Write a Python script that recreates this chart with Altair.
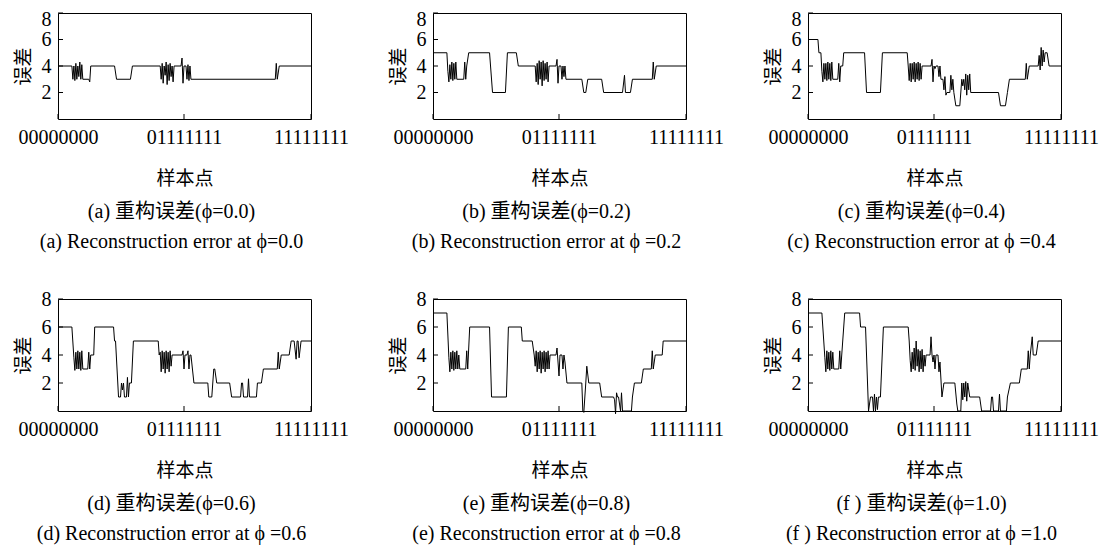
import altair as alt
import pandas as pd

# ---------------- data ----------------
X_TICK_VALUES = [0, 127, 255]
X_TICK_LABELS = ["00000000", "01111111", "11111111"]
Y_TICK_VALUES = [2, 4, 6, 8]
X_TITLE = "样本点"
Y_TITLE = "误差"

CN_CAPTIONS = ["(a)  重构误差(ϕ=0.0)", "(b)  重构误差(ϕ=0.2)", "(c)  重构误差(ϕ=0.4)",
               "(d)  重构误差(ϕ=0.6)", "(e) 重构误差(ϕ=0.8)", "(f ) 重构误差(ϕ=1.0)"]
EN_CAPTIONS = ["(a) Reconstruction error at ϕ=0.0", "(b) Reconstruction error at ϕ =0.2",
               "(c) Reconstruction error at ϕ =0.4", "(d) Reconstruction error at ϕ =0.6",
               "(e) Reconstruction error at ϕ =0.8", "(f ) Reconstruction error at ϕ =1.0"]

# [sample index, error]
PANEL_A = [[0, 4], [14, 4], [15, 3], [16, 4], [17, 2.9], [18, 4.2], [19, 3], [20, 4], [21, 3.2], [22, 4.3],
           [23, 3], [24, 4.1], [25, 3], [31, 3], [32, 2.8], [33, 4], [57, 4], [59, 3], [73, 3], [75, 4],
           [103, 4], [104, 3], [105, 4.2], [106, 2.7], [107, 4], [108, 3.3], [109, 4.3], [110, 2.6], [111, 4.1],
           [112, 2.9], [113, 4.2], [114, 3.2], [115, 4], [116, 2.8], [117, 4], [124, 4], [125, 4.6], [126, 2.7],
           [127, 4], [129, 4], [130, 3], [131, 4.1], [132, 2.9], [133, 4], [134, 3], [219, 3], [220, 4.2],
           [221, 3], [223, 4], [255, 4]]

PANEL_B = [[0, 5], [14, 5], [15, 3.6], [16, 2.8], [17, 4.1], [18, 3], [19, 4.3], [20, 2.9], [21, 4.2], [22, 3],
           [23, 4.3], [24, 3], [31, 3], [32, 4.3], [33, 3], [34, 4], [36, 5], [57, 5], [60, 2], [73, 2], [75, 5],
           [84, 5], [86, 4], [103, 4], [104, 2.8], [105, 4.2], [106, 2.6], [107, 4.4], [108, 3], [109, 4.3],
           [110, 2.5], [111, 4.4], [112, 2.9], [113, 4.2], [114, 3], [115, 4.3], [116, 2.8], [117, 4], [124, 4],
           [125, 4.5], [126, 2.7], [127, 4], [129, 4], [130, 3], [131, 4], [132, 3.2], [133, 4], [134, 3],
           [150, 3], [152, 2], [154, 2], [156, 3], [170, 3], [172, 2], [191, 2], [193, 3.3], [194, 2], [199, 2],
           [201, 3], [221, 3], [222, 4.3], [223, 3], [225, 4], [255, 4]]

PANEL_C = [[0, 6], [10, 6], [11, 5], [13, 5], [14, 3.6], [15, 2.8], [16, 4.2], [17, 3], [18, 4.2], [19, 2.9],
           [20, 4.3], [21, 3], [22, 4.2], [23, 2.9], [24, 4.3], [25, 3], [30, 3], [31, 4.2], [32, 2.8], [33, 4],
           [35, 4], [36, 5], [57, 5], [59, 2], [73, 2], [75, 5], [100, 5], [101, 4], [102, 2.9], [103, 4.2],
           [104, 2.8], [105, 4.2], [106, 3], [107, 4.3], [108, 2.8], [109, 4.2], [110, 3], [111, 4.3], [112, 2.9],
           [113, 4.2], [114, 3], [115, 4], [124, 4], [125, 4.5], [126, 2.8], [127, 4], [128, 3.8], [129, 4],
           [131, 4], [132, 3.2], [133, 4], [134, 3], [136, 3], [137, 2.2], [138, 3.2], [139, 1.8], [140, 2],
           [143, 2], [144, 3.3], [145, 2.2], [146, 3], [147, 2], [149, 1], [153, 1], [155, 3], [156, 2.5],
           [157, 3], [158, 2.2], [159, 3.4], [160, 1.8], [161, 3.3], [162, 2.2], [163, 3.4], [164, 2], [192, 2],
           [194, 1], [199, 1], [201, 2], [203, 3], [219, 3], [220, 4.2], [221, 3], [223, 4], [232, 4],
           [233, 4.8], [234, 3.7], [235, 5.4], [236, 4], [237, 5.2], [238, 4.3], [239, 5], [241, 5], [243, 4],
           [255, 4]]

PANEL_D = [[0, 6], [14, 6], [16, 3.8], [17, 2.9], [18, 4.2], [19, 3], [20, 4.3], [21, 3], [22, 4.2], [23, 2.9],
           [24, 4.3], [25, 3], [30, 3], [31, 4.2], [32, 3], [33, 4], [36, 4], [37, 6], [56, 6], [57, 5], [58, 5],
           [61, 1], [63, 1], [64, 2], [65, 1.5], [66, 2], [67, 1], [69, 1], [70, 2.4], [71, 1], [72, 2], [74, 2],
           [76, 5], [101, 5], [102, 4], [103, 4.2], [104, 2.8], [105, 4.3], [106, 3], [107, 4.2], [108, 2.7],
           [109, 4.3], [110, 3], [111, 4.2], [112, 2.8], [113, 4.3], [114, 3.2], [115, 4], [125, 4], [126, 4.3],
           [127, 3], [128, 4], [130, 4], [131, 4.3], [132, 3], [133, 4], [134, 4], [137, 2], [151, 2], [152, 1],
           [155, 1], [157, 3], [158, 3], [160, 2], [173, 2], [175, 1], [184, 1], [185, 2], [186, 2], [187, 1],
           [191, 1], [192, 2.3], [193, 1], [200, 1], [201, 2], [205, 2], [207, 3], [221, 3], [222, 4.2], [223, 3],
           [225, 4], [233, 4], [235, 5], [238, 5], [240, 3.7], [241, 5], [242, 5], [243, 3.8], [245, 5], [255, 5]]

PANEL_E = [[0, 7], [14, 7], [16, 3.8], [17, 2.8], [18, 4.2], [19, 3], [20, 4.3], [21, 2.9], [22, 4.2], [23, 3],
           [24, 4.3], [25, 3], [26, 4], [27, 3], [33, 3], [34, 4.3], [35, 3], [37, 6], [57, 6], [59, 1], [74, 1],
           [76, 6], [89, 6], [90, 5], [100, 5], [102, 4], [103, 3.2], [104, 4.3], [105, 2.8], [106, 4.2], [107, 3],
           [108, 4.3], [109, 2.7], [110, 4.2], [111, 3], [112, 4.3], [113, 2.8], [114, 4.2], [115, 3], [116, 4.3],
           [117, 3], [118, 4], [124, 4], [125, 4.5], [127, 2.5], [128, 4], [130, 4], [131, 3], [132, 4],
           [133, 3.5], [135, 2], [150, 2], [151, 0], [152, -0.1], [154, 2], [155, 3.2], [157, 2], [168, 2],
           [170, 1], [182, 1], [183, 0.8], [184, -0.2], [185, 1.3], [186, 1], [187, 1], [189, 0], [190, 1.3],
           [191, 0], [200, 0], [201, 1], [203, 2], [210, 2], [212, 3], [220, 3], [221, 4.3], [222, 3], [224, 4],
           [231, 4], [232, 5], [255, 5]]

PANEL_F = [[0, 7], [14, 7], [17, 3.8], [18, 2.8], [19, 4.3], [20, 3], [21, 4.2], [22, 2.9], [23, 4.3], [24, 3],
           [25, 4.2], [26, 3], [31, 3], [32, 4.3], [33, 3], [35, 5], [37, 7], [52, 7], [53, 6], [58, 6], [61, 0],
           [62, 0.5], [63, 1], [65, 1], [66, 0], [67, 1.2], [68, 0], [69, 1], [70, 0.1], [71, 1], [73, 1], [76, 6],
           [101, 6], [102, 5], [103, 3.6], [104, 2.8], [105, 4.2], [106, 3], [107, 4.5], [108, 2.9], [109, 5],
           [110, 3.2], [111, 4.4], [112, 2.8], [113, 4.3], [114, 3], [115, 4.4], [116, 2.8], [117, 4], [118, 3.2],
           [119, 4], [123, 4], [124, 5.3], [125, 4], [126, 3.5], [127, 4], [128, 3], [129, 4], [131, 4],
           [132, 2.8], [133, 3.5], [135, 1], [136, 1.5], [137, 2], [148, 2], [150, 0.5], [151, 0], [154, 0],
           [155, 2], [156, 0.8], [157, 2], [158, 1], [159, 2.1], [160, 0.7], [161, 2], [162, 1.5], [163, 1],
           [173, 1], [175, 0], [184, 0], [185, 1], [186, 1], [187, 0], [192, 0], [193, 1.2], [194, 0], [200, 0],
           [201, 1], [204, 2], [213, 2], [215, 3], [221, 3], [222, 4.3], [223, 3], [224, 4], [226, 5.3],
           [227, 4], [230, 4], [232, 5], [255, 5]]

PANELS = [PANEL_A, PANEL_B, PANEL_C, PANEL_D, PANEL_E, PANEL_F]

# ---------------- style ----------------
SERIF = "Liberation Serif, Noto Sans CJK SC"
CJK = "Noto Sans CJK SC"
PLOT_W = 253
ROW_H = [106, 112]

label_expr = " : ".join(
    f"datum.value == {v} ? '{l}'" for v, l in zip(X_TICK_VALUES[:-1], X_TICK_LABELS[:-1])
) + f" : '{X_TICK_LABELS[-1]}'"

x_scale = alt.Scale(domain=[X_TICK_VALUES[0], X_TICK_VALUES[-1]], nice=False, zero=False)
y_scale = alt.Scale(domain=[0, Y_TICK_VALUES[-1]], nice=False)


def make_x_axis():
    return alt.Axis(values=X_TICK_VALUES, labelExpr=label_expr, title=X_TITLE, ticks=False, domain=False,
                    grid=False, labelFont=SERIF, labelFontSize=20, labelColor="black", labelPadding=8,
                    labelFlush=False, labelOverlap=False, titleFont=CJK, titleFontSize=19,
                    titleFontWeight="normal", titleColor="black", titlePadding=22)


def make_y_axis(row):
    kw = {}
    if row == 0:
        kw["labelOffset"] = alt.condition(f"datum.value == {Y_TICK_VALUES[-1]}", alt.value(6), alt.value(0))
    return alt.Axis(values=Y_TICK_VALUES, title=Y_TITLE, ticks=False, domain=False, grid=False,
                    labelFont=SERIF, labelFontSize=20, labelColor="black", labelPadding=7,
                    labelOverlap=False, labelFlush=False,
                    titleFont=CJK, titleFontSize=19, titleFontWeight="normal", titleColor="black",
                    titlePadding=8, **kw)


def panel(i):
    row = i // 3
    h = ROW_H[row]
    df = pd.DataFrame(PANELS[i], columns=["x", "y"])
    xa = make_x_axis()
    ya = make_y_axis(row)
    line = alt.Chart(df).mark_line(color="black", strokeWidth=1, clip=False).encode(
        x=alt.X("x:Q", scale=x_scale, axis=xa),
        y=alt.Y("y:Q", scale=y_scale, axis=ya),
    )
    yt = alt.Chart(pd.DataFrame({"v": Y_TICK_VALUES})).mark_rule(color="black", strokeWidth=1).encode(
        y=alt.Y("v:Q", scale=y_scale, axis=ya),
        x=alt.value(0), x2=alt.value(5),
    )
    xt = alt.Chart(pd.DataFrame({"v": X_TICK_VALUES})).mark_rule(color="black", strokeWidth=1).encode(
        x=alt.X("v:Q", scale=x_scale, axis=xa),
        y=alt.value(h), y2=alt.value(h - 5),
    )
    return alt.layer(line, yt, xt).properties(
        width=PLOT_W, height=h,
        title=alt.TitleParams(text=[CN_CAPTIONS[i], EN_CAPTIONS[i]], orient="bottom", anchor="middle",
                              frame="group", font=SERIF, fontSize=20, fontWeight="normal", color="black",
                              lineHeight=30, offset=14, dx=-13),
    )


row1 = alt.hconcat(panel(0), panel(1), panel(2), spacing=122, bounds="flush")
row2 = alt.hconcat(panel(3), panel(4), panel(5), spacing=122, bounds="flush")

# with flush bounds the nested rows count as zero height, so this is top-to-top distance
chart = alt.vconcat(row1, row2, spacing=286, bounds="flush").properties(
    padding={"left": 5, "top": 0, "right": 0, "bottom": 0},
    background="white",
).configure_view(stroke="black", strokeWidth=1)

chart.save("out.html", embed_options={"renderer": "svg", "actions": False})
